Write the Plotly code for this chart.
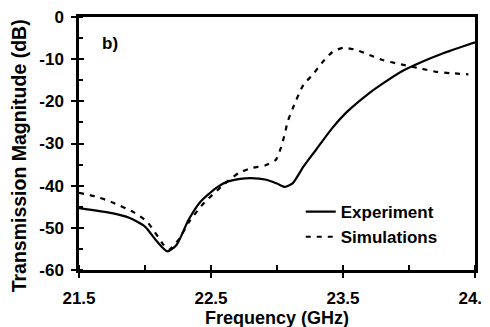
import plotly.graph_objects as go

# Experiment (solid)
exp_freq = [21.5, 21.75, 21.88, 22.0, 22.09, 22.17, 22.24, 22.33, 22.42, 22.54, 22.62, 22.72,
            22.8, 22.92, 23.0, 23.06, 23.12, 23.2, 23.3, 23.42, 23.53, 23.68, 23.8, 23.95,
            24.1, 24.25, 24.5]
exp_db = [-45.3, -46.5, -47.6, -49.7, -53.2, -55.6, -54.0, -48.1, -43.8, -40.5, -39.1, -38.4,
          -38.2, -38.6, -39.5, -40.3, -39.4, -35.5, -31.3, -26.3, -22.5, -18.5, -15.8, -12.8,
          -10.6, -8.7, -6.0]

# Simulations (dashed)
sim_freq = [21.5, 21.63, 21.74, 21.92, 22.02, 22.14, 22.18, 22.25, 22.34, 22.45, 22.62, 22.71,
            22.81, 22.91, 22.99, 23.03, 23.06, 23.08, 23.12, 23.2, 23.27, 23.34, 23.42, 23.5,
            23.6, 23.7, 23.8, 23.92, 24.1, 24.21, 24.31, 24.45]
sim_db = [-41.7, -42.6, -43.8, -46.4, -48.7, -54.0, -55.2, -53.0, -48.3, -44.0, -39.1, -37.0,
          -35.8, -35.2, -33.9, -31.0, -27.6, -24.9, -21.6, -16.1, -13.7, -10.9, -8.3, -7.3,
          -7.8, -9.0, -10.2, -11.1, -12.3, -13.0, -13.3, -13.6]

x_ticks = [21.5, 22.5, 23.5, 24.5]
x_tick_labels = ["21.5", "22.5", "23.5", "24.5"]
y_ticks = [0, -10, -20, -30, -40, -50, -60]
y_tick_labels = ["0", "-10", "-20", "-30", "-40", "-50", "-60"]

FONT = "Liberation Sans"
BOLD = dict(family=FONT, color="black")


def b(s):
    return "<b>" + s + "</b>"


fig = go.Figure()
fig.add_trace(go.Scatter(x=exp_freq, y=exp_db, mode="lines", name=b("Experiment"),
                         line=dict(color="black", width=2.2, shape="spline", smoothing=0.6)))
fig.add_trace(go.Scatter(x=sim_freq, y=sim_db, mode="lines", name=b("Simulations"),
                         line=dict(color="black", width=2.2, dash="5px,6px", shape="spline", smoothing=0.6)))
# invisible trace to activate overlay axes
fig.add_trace(go.Scatter(x=[21.5], y=[-60], xaxis="x2", yaxis="y2", mode="markers",
                         marker=dict(opacity=0), showlegend=False, hoverinfo="skip"))

fig.update_layout(
    width=482, height=319,
    margin=dict(l=71, r=15, t=9, b=57, autoexpand=False),
    paper_bgcolor="white", plot_bgcolor="white",
    showlegend=True,
    legend=dict(x=0.56, y=0.30, xanchor="left", yanchor="top", bgcolor="rgba(0,0,0,0)",
                font=dict(size=17, **BOLD), tracegroupgap=0, itemwidth=30),
    xaxis=dict(range=[21.5, 24.5], tickvals=x_ticks, ticktext=[b(t) for t in x_tick_labels],
               ticks="outside", ticklen=5, tickwidth=2, tickcolor="black",
               minor=dict(dtick=0.5, tick0=21.5, ticks="inside", ticklen=5, tickwidth=1.5, tickcolor="black"),
               showline=True, linewidth=2.5, linecolor="black", mirror=True,
               showgrid=False, zeroline=False, ticklabeloverflow="allow", automargin=False,
               tickfont=dict(size=17, **BOLD), ticklabelstandoff=6),
    yaxis=dict(range=[-60, 0], tickvals=y_ticks, ticktext=[b(t) for t in y_tick_labels],
               ticks="outside", ticklen=5, tickwidth=2, tickcolor="black",
               minor=dict(dtick=5, tick0=0, ticks="inside", ticklen=4, tickwidth=1.5, tickcolor="black"),
               showline=True, linewidth=2.5, linecolor="black", mirror=True,
               showgrid=False, zeroline=False, automargin=False, ticklabeloverflow="allow",
               tickfont=dict(size=17, **BOLD), ticklabelstandoff=4),
    xaxis2=dict(range=[21.5, 24.5], overlaying="x", tickvals=x_ticks, showticklabels=False,
                ticks="inside", ticklen=5, tickwidth=2, tickcolor="black",
                showline=False, showgrid=False, zeroline=False),
    yaxis2=dict(range=[-60, 0], overlaying="y", tickvals=y_ticks, showticklabels=False,
                ticks="inside", ticklen=5, tickwidth=2, tickcolor="black",
                showline=False, showgrid=False, zeroline=False),
    annotations=[
        dict(text=b("b)"), xref="paper", yref="paper", x=0.053, y=0.895,
             xanchor="left", yanchor="middle", showarrow=False, font=dict(size=17, **BOLD)),
        dict(text=b("Frequency (GHz)"), xref="paper", yref="paper", x=0.5, y=-0.19,
             xanchor="center", yanchor="middle", showarrow=False, font=dict(size=18, **BOLD)),
        dict(text=b("Transmission Magnitude (dB)"), xref="paper", yref="paper", x=-0.151, y=0.45,
             xanchor="center", yanchor="middle", textangle=-90, showarrow=False,
             font=dict(size=19.5, **BOLD)),
    ],
)

fig.write_html("out.html")
